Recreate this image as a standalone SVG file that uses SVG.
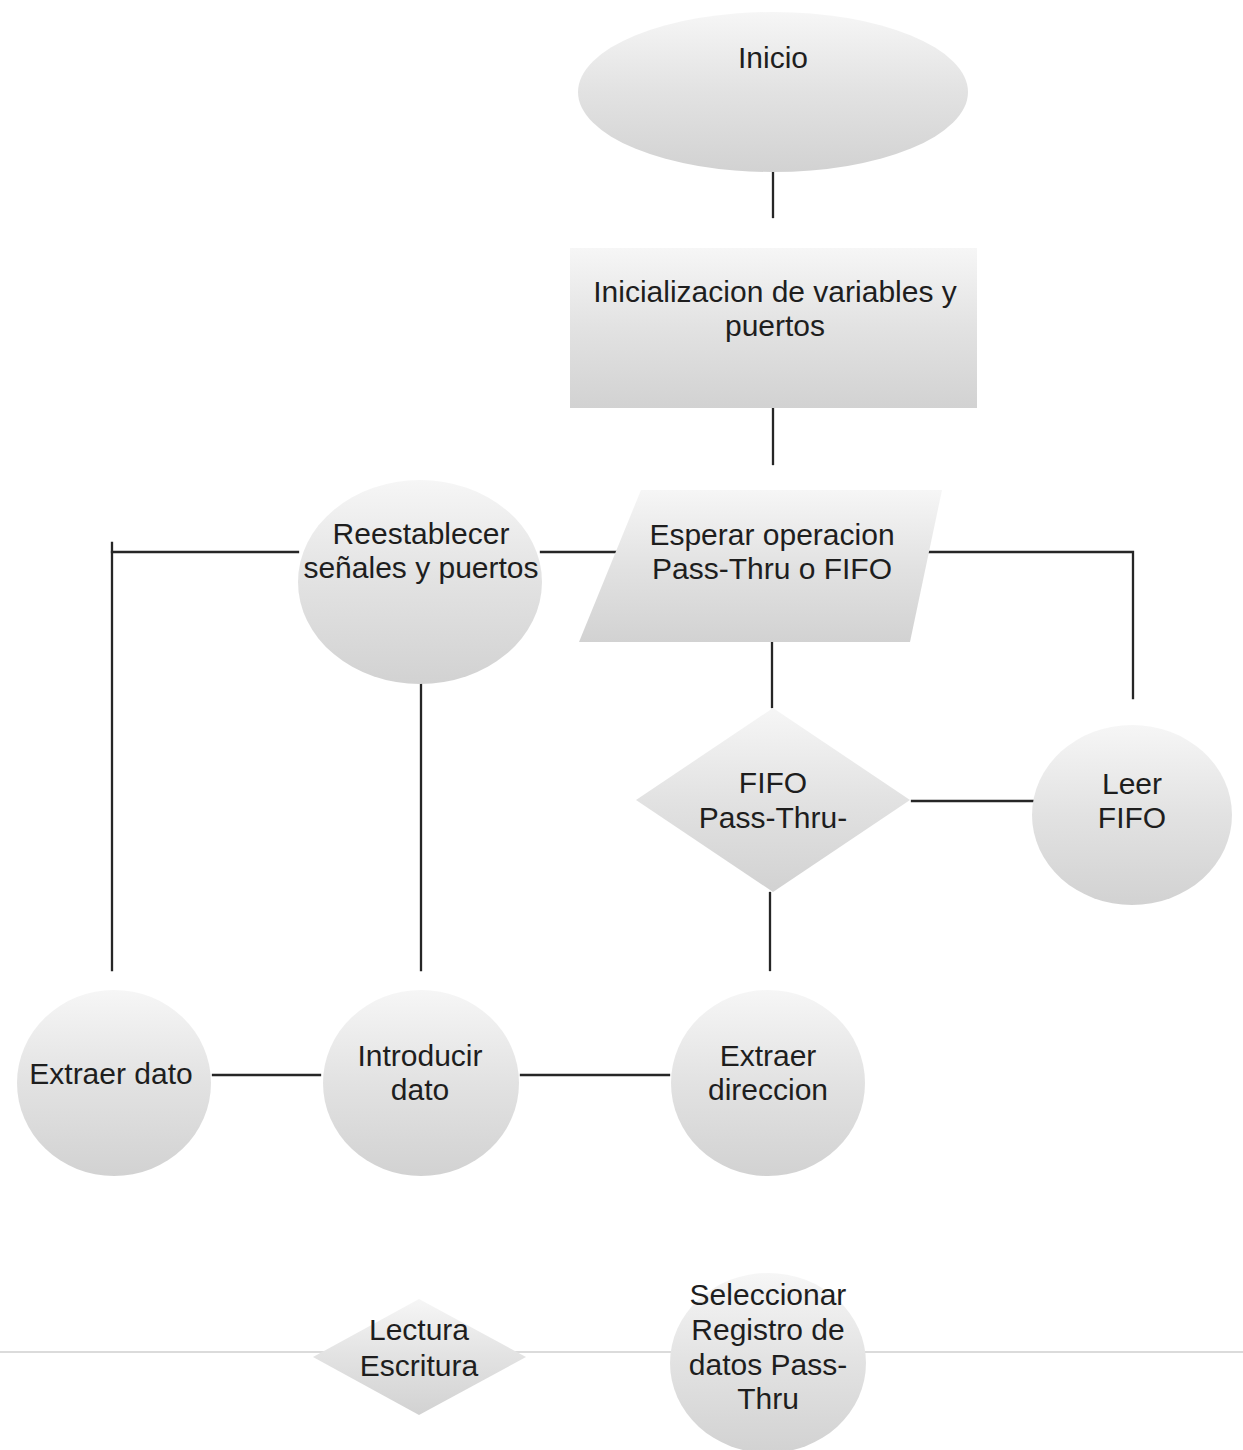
<svg xmlns="http://www.w3.org/2000/svg" width="1243" height="1450" viewBox="0 0 1243 1450">
  <style>
    .shape { fill: url(#shade); stroke: none; }
    .label { font-family: "Liberation Sans", Arial, sans-serif; font-size: 30px; fill: #1e1e1e; text-anchor: middle; }
    .conn { fill: none; stroke: #262626; stroke-width: 2.3; stroke-linecap: square; }
    .rule { stroke: #cfcfcf; stroke-width: 1.5; }
  </style>
  <defs>
    <!-- soft top-to-bottom grey fill shared by every shape -->
    <linearGradient id="shade" x1="0" y1="0" x2="0" y2="1">
      <stop offset="0" stop-color="#f6f6f6"/>
      <stop offset="0.5" stop-color="#e2e2e2"/>
      <stop offset="1" stop-color="#d2d2d2"/>
    </linearGradient>
  </defs>

  <rect x="0" y="0" width="1243" height="1450" fill="#ffffff"/>
  <line class="rule" x1="0" y1="1352" x2="1243" y2="1352"/>

  <g id="connectors">
    <line class="conn" x1="773" y1="173" x2="773" y2="217"/>
    <line class="conn" x1="773" y1="409" x2="773" y2="464"/>
    <line class="conn" x1="112" y1="552" x2="298" y2="552"/>
    <line class="conn" x1="541" y1="552" x2="617" y2="552"/>
    <polyline class="conn" points="929,552 1133,552 1133,698"/>
    <line class="conn" x1="112" y1="543" x2="112" y2="970"/>
    <line class="conn" x1="421" y1="684" x2="421" y2="970"/>
    <line class="conn" x1="772" y1="643" x2="772" y2="707"/>
    <line class="conn" x1="912" y1="801" x2="1033" y2="801"/>
    <line class="conn" x1="770" y1="893" x2="770" y2="970"/>
    <line class="conn" x1="213" y1="1075" x2="320" y2="1075"/>
    <line class="conn" x1="521" y1="1075" x2="669" y2="1075"/>
  </g>

  <g id="inicio">
    <ellipse class="shape" cx="773" cy="92" rx="195" ry="80"/>
    <text class="label" x="773" y="68">Inicio</text>
  </g>

  <g id="inicializacion">
    <rect class="shape" x="570" y="248" width="407" height="160"/>
    <text class="label" x="775" y="302">Inicializacion de variables y</text>
    <text class="label" x="775" y="336">puertos</text>
  </g>

  <g id="esperar">
    <polygon class="shape" points="641,490 942,490 910,642 579,642"/>
    <text class="label" x="772" y="545">Esperar operacion</text>
    <text class="label" x="772" y="579">Pass-Thru o FIFO</text>
  </g>

  <g id="reestablecer">
    <ellipse class="shape" cx="420" cy="582" rx="122" ry="102"/>
    <text class="label" x="421" y="544">Reestablecer</text>
    <text class="label" x="421" y="578">señales y puertos</text>
  </g>

  <g id="fifo-passthru">
    <polygon class="shape" points="773,708 910,800 773,892 636,800"/>
    <text class="label" x="773" y="793">FIFO</text>
    <text class="label" x="773" y="828">Pass-Thru-</text>
  </g>

  <g id="leer-fifo">
    <ellipse class="shape" cx="1132" cy="815" rx="100" ry="90"/>
    <text class="label" x="1132" y="794">Leer</text>
    <text class="label" x="1132" y="828">FIFO</text>
  </g>

  <g id="extraer-dato">
    <ellipse class="shape" cx="114" cy="1083" rx="97" ry="93"/>
    <text class="label" x="111" y="1084">Extraer dato</text>
  </g>

  <g id="introducir-dato">
    <ellipse class="shape" cx="421" cy="1083" rx="98" ry="93"/>
    <text class="label" x="420" y="1066">Introducir</text>
    <text class="label" x="420" y="1100">dato</text>
  </g>

  <g id="extraer-direccion">
    <ellipse class="shape" cx="768" cy="1083" rx="97" ry="93"/>
    <text class="label" x="768" y="1066">Extraer</text>
    <text class="label" x="768" y="1100">direccion</text>
  </g>

  <g id="lectura-escritura">
    <polygon class="shape" points="419,1299 526,1357 419,1415 313,1357"/>
    <text class="label" x="419" y="1340">Lectura</text>
    <text class="label" x="419" y="1376">Escritura</text>
  </g>

  <g id="seleccionar-registro">
    <ellipse class="shape" cx="768" cy="1363" rx="98" ry="90"/>
    <text class="label" x="768" y="1305">Seleccionar</text>
    <text class="label" x="768" y="1340">Registro de</text>
    <text class="label" x="768" y="1375">datos Pass-</text>
    <text class="label" x="768" y="1409">Thru</text>
  </g>
</svg>
